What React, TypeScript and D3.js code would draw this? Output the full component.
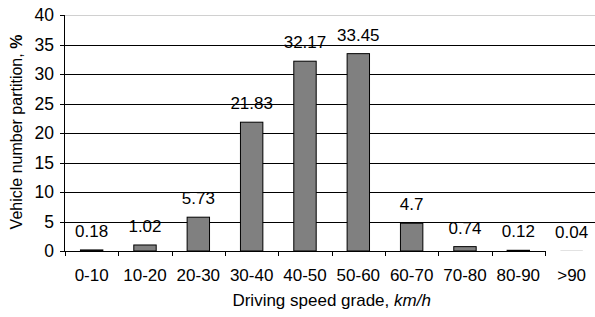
import React from 'react'
import * as d3 from 'd3'

const categories = ['0-10', '10-20', '20-30', '30-40', '40-50', '50-60', '60-70', '70-80', '80-90', '>90']
const values = [0.18, 1.02, 5.73, 21.83, 32.17, 33.45, 4.7, 0.74, 0.12, 0.04]
const yTicks = [0, 5, 10, 15, 20, 25, 30, 35, 40]

const W = 595
const H = 317
const left = 65
const right = 598.3
const top = 15
const bottom = 251
const font = '"Liberation Sans", Arial, sans-serif'

export default function App() {
  const x = d3.scaleBand().domain(categories).range([left, right]).padding(0)
  const y = d3.scaleLinear().domain([0, 40]).range([bottom, top])
  const barW = x.bandwidth() * 0.42
  const lastTick = x(categories[categories.length - 1])

  return (
    <svg
      width={W}
      height={H}
      style={{ position: 'absolute', left: 0, top: 0, background: '#fff' }}
      fontFamily={font}
    >
      {/* gridlines */}
      {yTicks.filter(t => t > 0).map(t => (
        <line
          key={t}
          x1={left}
          x2={W}
          y1={Math.round(y(t)) + 0.5}
          y2={Math.round(y(t)) + 0.5}
          stroke={t === 40 ? '#d0d0d0' : '#000'}
          strokeWidth={1}
        />
      ))}

      {/* bars */}
      {values.map((v, i) => {
        const cx = x(categories[i]) + x.bandwidth() / 2
        const h = bottom - y(v)
        return (
          <g key={i}>
            <rect
              x={cx - barW / 2}
              y={y(v)}
              width={barW}
              height={h}
              fill="#808080"
              stroke={h < 0.5 ? 'none' : '#000'}
              strokeWidth={1}
            />
            <text x={cx} y={y(v) - 13} textAnchor="middle" fontSize={17} fill="#000">
              {v}
            </text>
          </g>
        )
      })}

      {/* y axis */}
      <line x1={left - 0.5} x2={left - 0.5} y1={top} y2={bottom} stroke="#000" />
      {yTicks.map(t => (
        <g key={t}>
          <line x1={left - 5} x2={left} y1={Math.round(y(t)) + 0.5} y2={Math.round(y(t)) + 0.5} stroke="#000" />
          <text x={54} y={y(t) + 6} textAnchor="end" fontSize={17.5} fill="#000">
            {t}
          </text>
        </g>
      ))}

      {/* x axis */}
      <line x1={left - 5} x2={lastTick} y1={bottom + 0.5} y2={bottom + 0.5} stroke="#000" />
      {categories.map((c, i) => (
        <g key={c}>
          {i > 0 && (
            <line
              x1={Math.round(x(c)) + 0.5}
              x2={Math.round(x(c)) + 0.5}
              y1={bottom}
              y2={bottom + 5}
              stroke="#000"
            />
          )}
          <text x={x(c) + x.bandwidth() / 2} y={281} textAnchor="middle" fontSize={17} fill="#000">
            {c}
          </text>
        </g>
      ))}
      <line x1={left + 0.5} x2={left + 0.5} y1={bottom} y2={bottom + 5} stroke="#000" />

      {/* axis titles */}
      <text x={(left + right) / 2} y={306} textAnchor="middle" fontSize={17} fill="#000">
        Driving speed grade, <tspan fontStyle="italic">km/h</tspan>
      </text>
      <text
        transform={`translate(21.5,${(top + bottom) / 2 - 1}) rotate(-90)`}
        textAnchor="middle"
        fontSize={16}
        fill="#000"
      >
        Vehicle number partition, <tspan fontWeight="bold">%</tspan>
      </text>
    </svg>
  )
}
